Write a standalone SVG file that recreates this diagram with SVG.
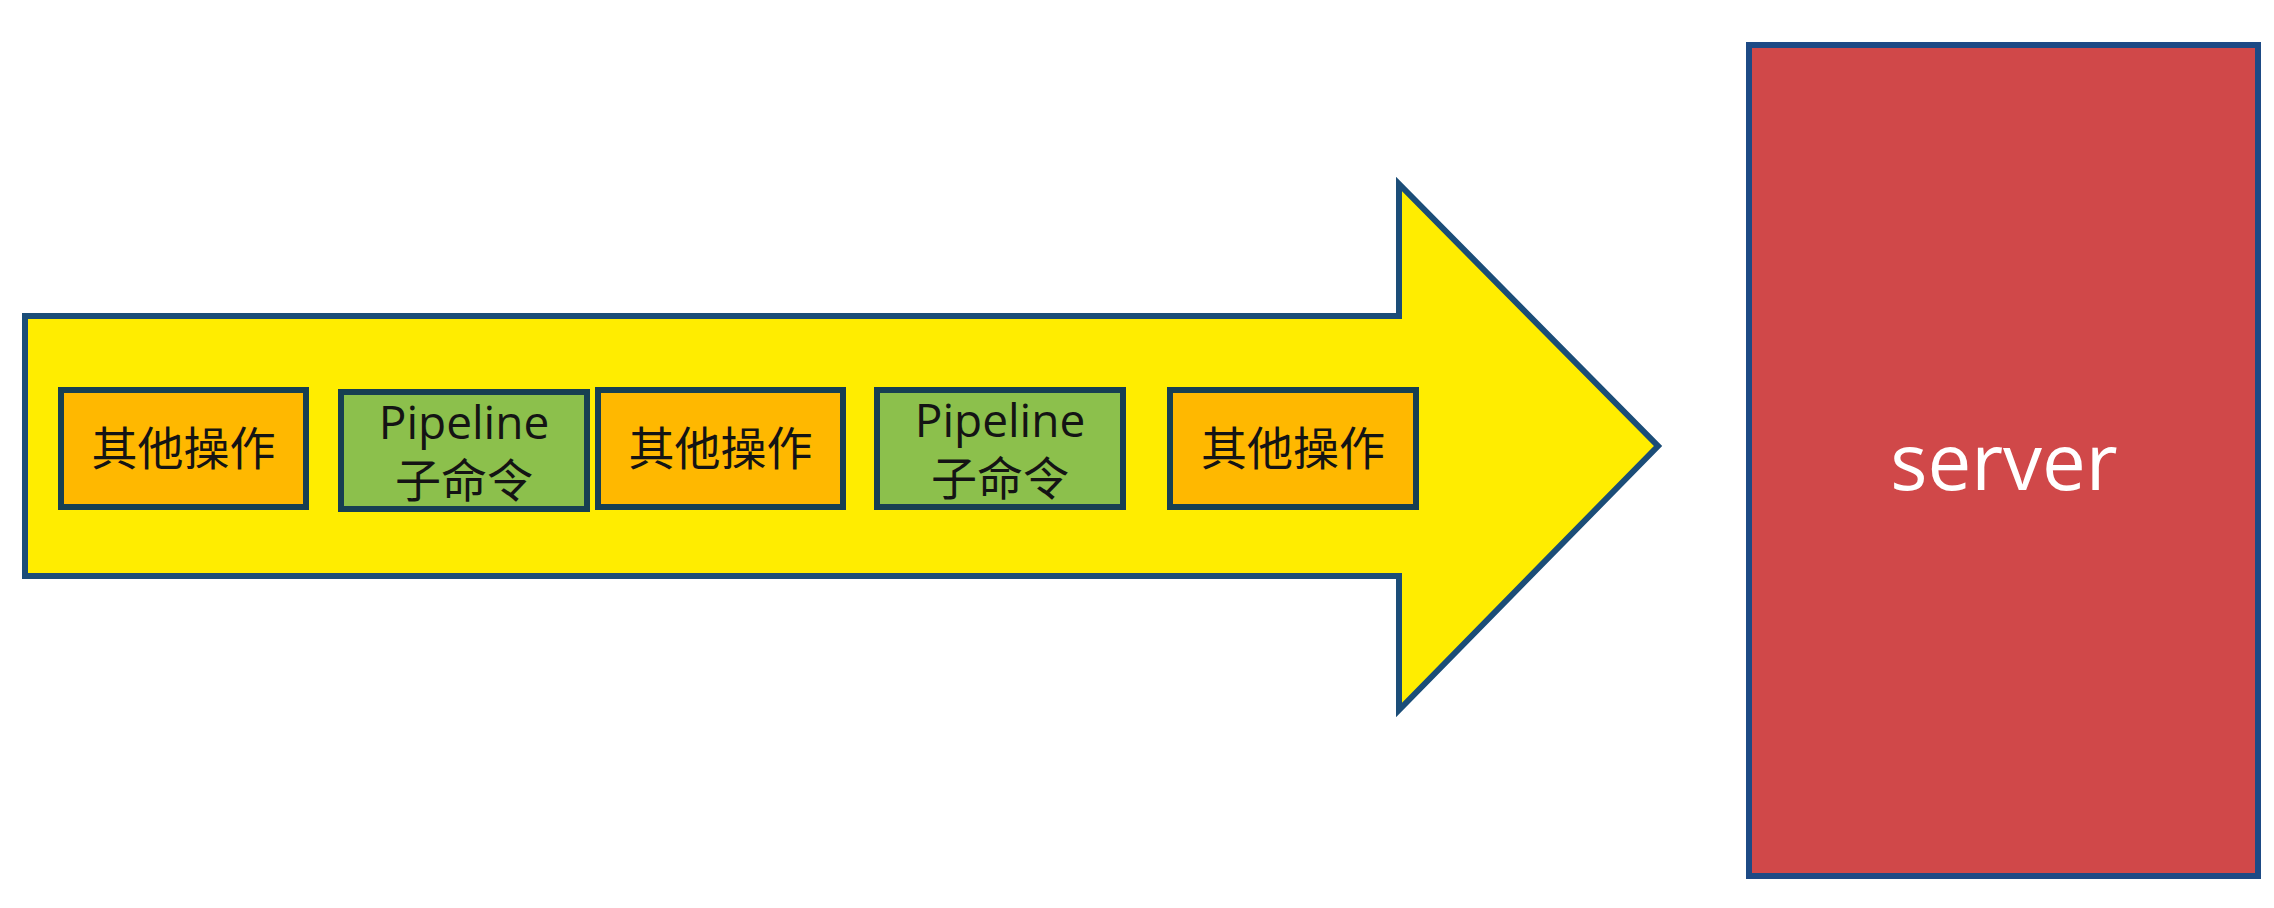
<svg xmlns="http://www.w3.org/2000/svg" width="2274" height="908" viewBox="0 0 2274 908">
<style>
  .lbl { font-family: "Open Sans", "Noto Sans CJK SC", sans-serif; font-size: 46px; fill: #141414; text-anchor: middle; }
  .op { fill: #FFB800; stroke: #173f52; stroke-width: 6; }
  .pl { fill: #8CC04C; stroke: #173f52; stroke-width: 6; }
  .srvtxt { font-family: "Open Sans", "Noto Sans CJK SC", sans-serif; font-size: 78px; fill: #ffffff; text-anchor: middle; }
</style>
<rect x="0" y="0" width="2274" height="908" fill="#ffffff"/>
<g id="connectors">
  <g id="flow-arrow">
    <polygon points="25,316 1399,316 1399,184 1658,446 1399,710 1399,576 25,576" fill="#FFED00" stroke="#1b4d78" stroke-width="6" stroke-linejoin="miter"/>
  </g>
</g>
<g id="op1">
  <rect class="op" x="61" y="390" width="245" height="117"/>
  <text class="lbl" x="183.5" y="465">其他操作</text>
</g>
<g id="pipeline1">
  <rect class="pl" x="341" y="392" width="246" height="117"/>
  <text class="lbl" x="464" y="439">Pipeline</text>
  <text class="lbl" x="464" y="497">子命令</text>
</g>
<g id="op2">
  <rect class="op" x="598" y="390" width="245" height="117"/>
  <text class="lbl" x="720.5" y="465">其他操作</text>
</g>
<g id="pipeline2">
  <rect class="pl" x="877" y="390" width="246" height="117"/>
  <text class="lbl" x="1000" y="437">Pipeline</text>
  <text class="lbl" x="1000" y="495">子命令</text>
</g>
<g id="op3">
  <rect class="op" x="1170" y="390" width="246" height="117"/>
  <text class="lbl" x="1293" y="465">其他操作</text>
</g>
<g id="server">
  <rect x="1749" y="45" width="509" height="831" fill="#D04849" stroke="#1d4a85" stroke-width="6"/>
  <text class="srvtxt" x="2004" y="490">server</text>
</g>
</svg>
